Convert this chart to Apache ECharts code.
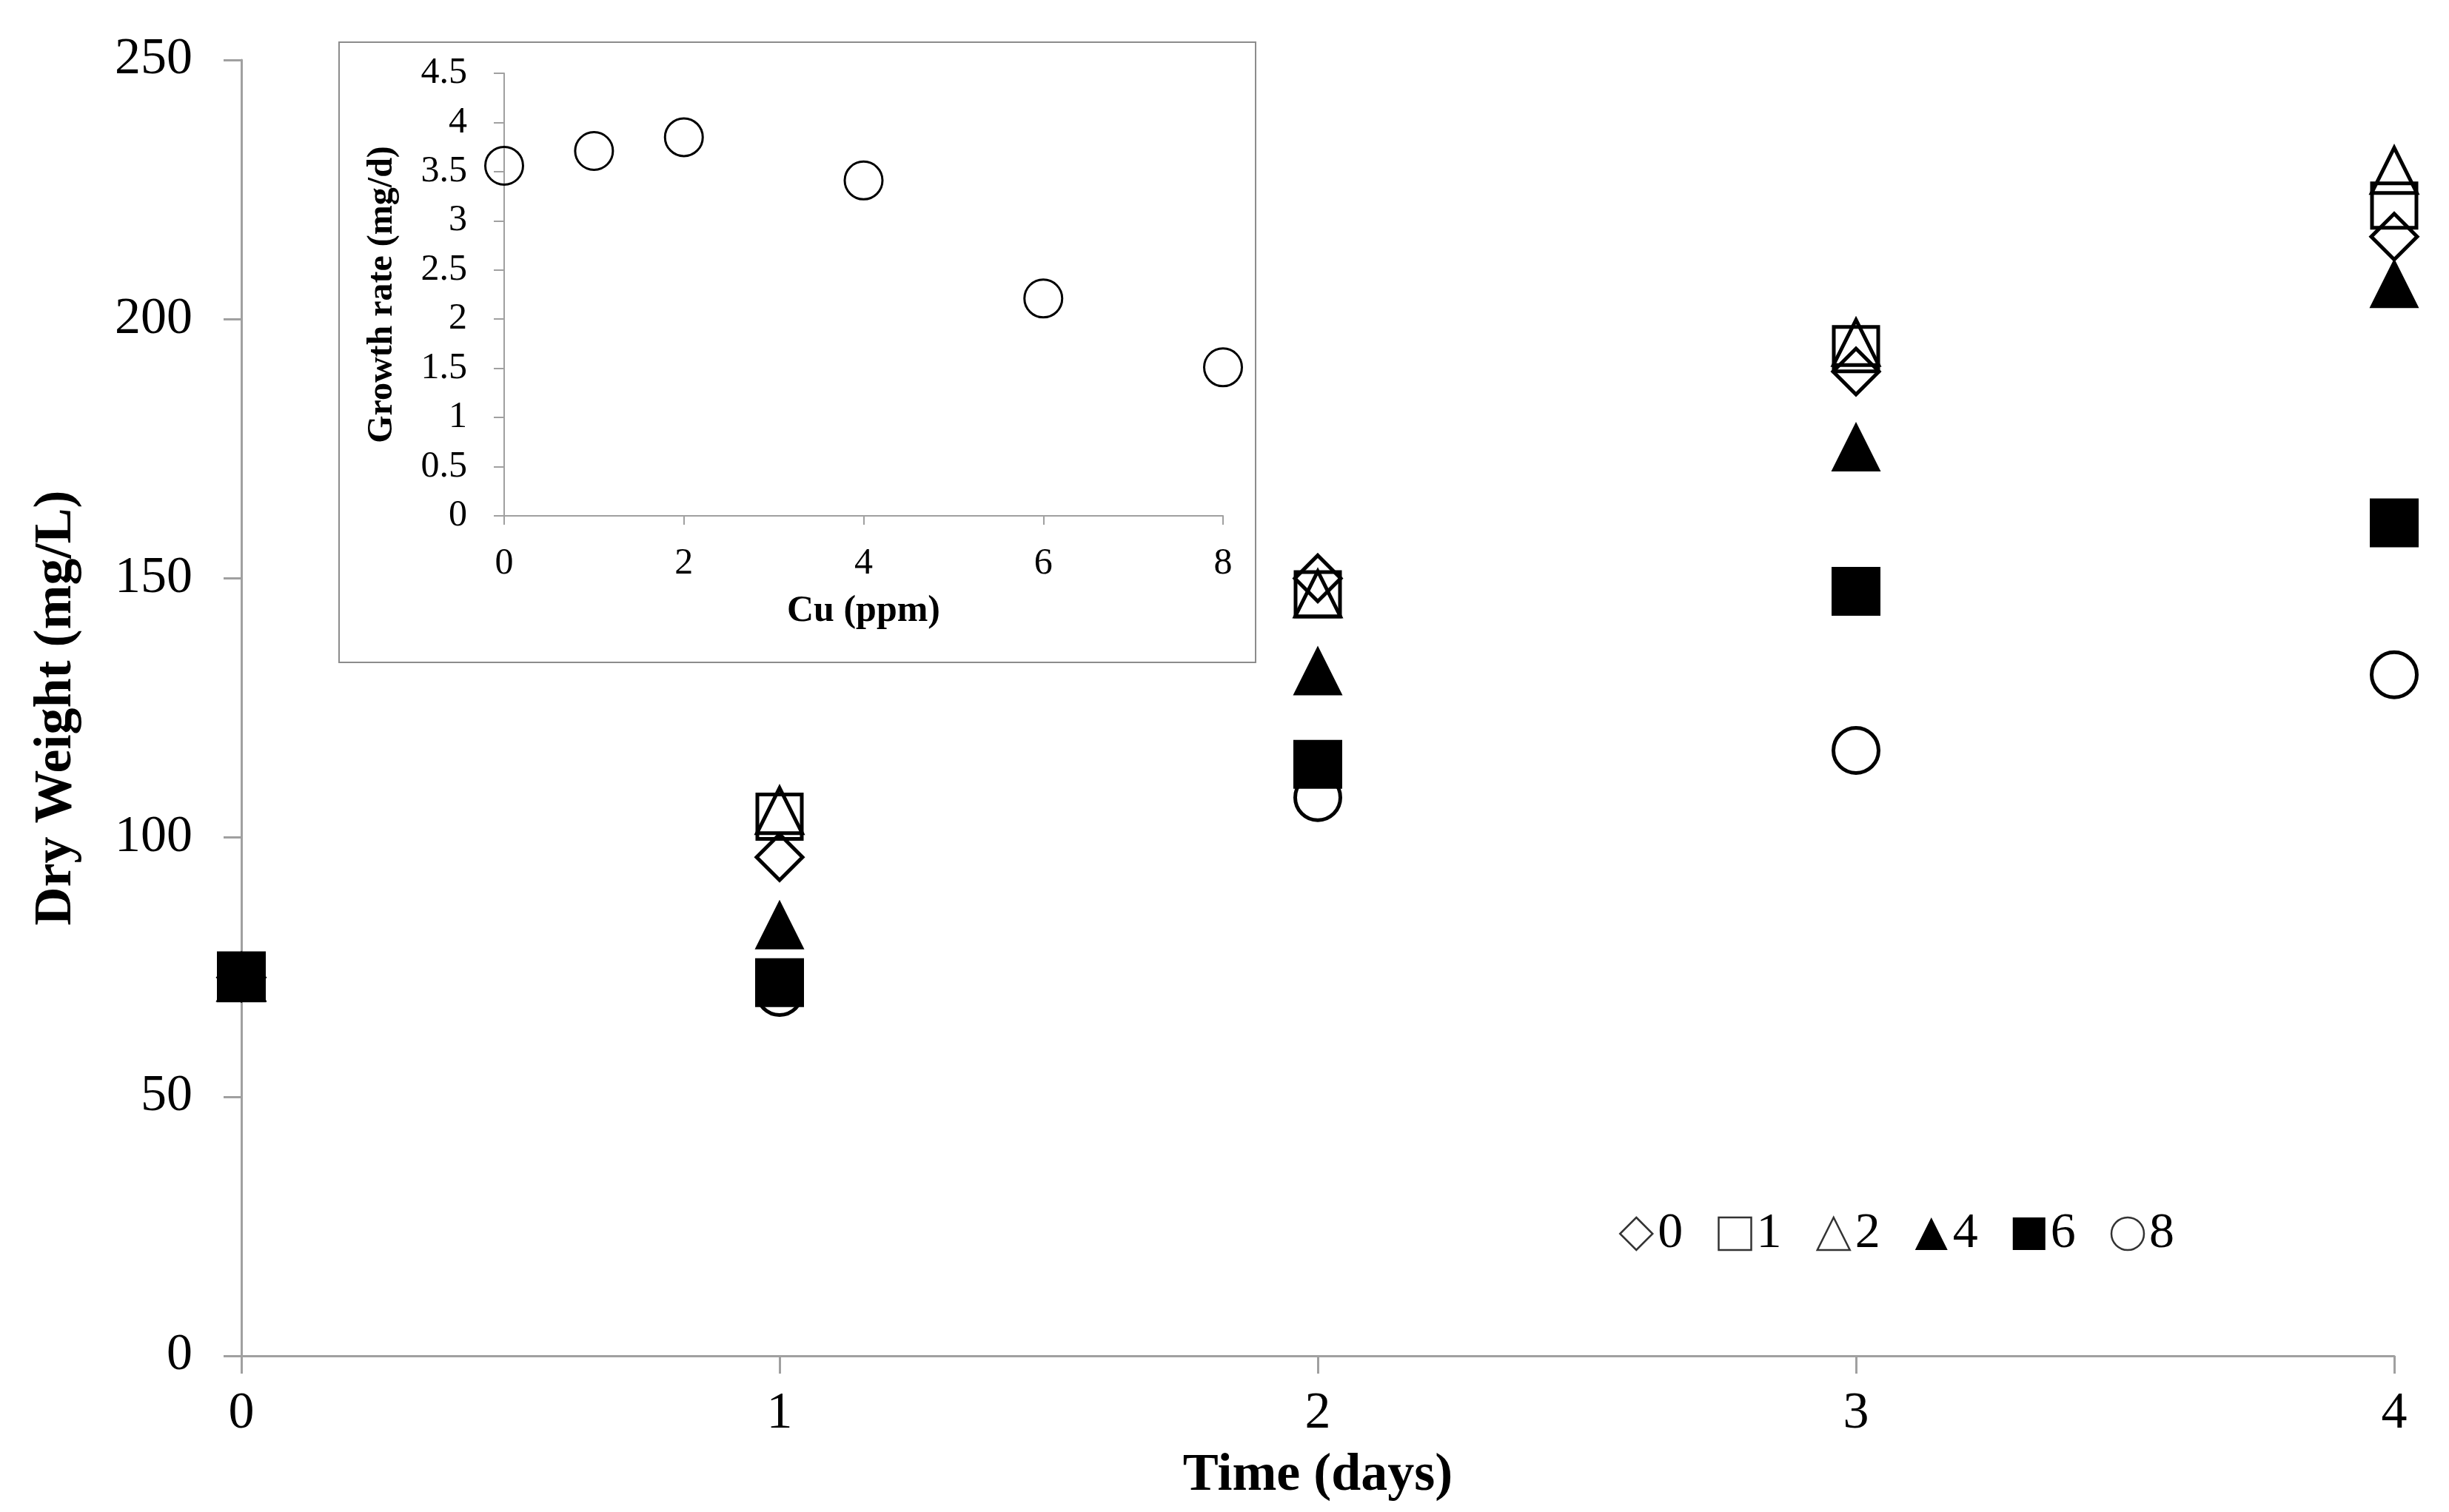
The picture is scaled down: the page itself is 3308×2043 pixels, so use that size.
<!DOCTYPE html>
<html>
<head>
<meta charset="utf-8">
<title>Dry weight vs time</title>
<script src="https://cdn.jsdelivr.net/npm/echarts@6/dist/echarts.min.js"></script>
<style>
  html, body { margin: 0; padding: 0; background: #fff; }
  #chart { width: 3308px; height: 2043px; }
</style>
</head>
<body>
<div id="chart"></div>
<script>
// main chart: dry weight per day, one series per Cu dose (ppm)
var days = [0, 1, 2, 3, 4];
var cu0 = [73, 96.2, 150.0, 189.9, 215.9];
var cu1 = [73, 104.0, 146.9, 194.2, 221.9];
var cu2 = [73, 105.2, 147.0, 195.5, 228.7];
var cu4 = [73, 83.2, 132.2, 175.4, 206.9];
var cu6 = [73.3, 72.0, 114.1, 147.5, 160.7];
var cu8 = [73, 70.1, 107.7, 116.8, 131.4];

// inset: growth rate vs Cu
var cuDose = [0, 1, 2, 4, 6, 8];
var growthRate = [3.56, 3.71, 3.85, 3.41, 2.21, 1.51];

var FONT = '"Liberation Serif", "Times New Roman", serif';
var AXIS_GRAY = '#a0a0a0';

function pairs(xs, ys) {
    return xs.map(function (x, i) { return [x, ys[i]]; });
}

var hollow = { color: 'rgba(0,0,0,0)', borderColor: '#000', borderWidth: 5, opacity: 1 };
var filled = { color: '#000', borderWidth: 0, opacity: 1 };

function mainSeries(name, symbol, size, style, values) {
    return {
        name: name,
        type: 'scatter',
        xAxisIndex: 0,
        yAxisIndex: 0,
        symbol: symbol,
        symbolSize: size,
        itemStyle: style,
        emphasis: { disabled: true },
        data: pairs(days, values),
        z: 3
    };
}

function legendItem(name, icon, fill) {
    return {
        name: name,
        icon: icon,
        itemStyle: fill ? { color: '#000', borderWidth: 0, opacity: 1 }
                        : { color: 'rgba(0,0,0,0)', borderColor: '#333', borderWidth: 2.5, opacity: 1 }
    };
}

var myChart = echarts.init(document.getElementById('chart'), null, { renderer: 'canvas' });

var option = {
    backgroundColor: '#fff',
    animation: false,
    textStyle: { fontFamily: FONT, color: '#000' },
    grid: [
        { left: 326, right: 74, top: 81, bottom: 211 },
        { left: 681, right: 1656, top: 99, bottom: 1346 }
    ],
    graphic: [{
        type: 'rect',
        z: -100,
        shape: { x: 458, y: 57, width: 1238, height: 838 },
        style: { fill: '#fff', stroke: '#8c8c8c', lineWidth: 2 }
    }],
    legend: {
        left: 2182,
        top: 1628,
        itemWidth: 44,
        itemHeight: 44,
        itemGap: 47,
        textStyle: { fontFamily: FONT, fontSize: 68, color: '#000', padding: [0, 0, 0, 2] },
        data: [
            legendItem('0', 'diamond', false),
            legendItem('1', 'rect', false),
            legendItem('2', 'triangle', false),
            legendItem('4', 'triangle', true),
            legendItem('6', 'rect', true),
            legendItem('8', 'circle', false)
        ]
    },
    xAxis: [
        {
            gridIndex: 0,
            type: 'value',
            min: 0, max: 4, interval: 1,
            name: 'Time (days)',
            nameLocation: 'middle',
            nameGap: 126,
            nameTextStyle: { fontFamily: FONT, fontSize: 72, fontWeight: 'bold', color: '#000' },
            axisLine: { lineStyle: { color: AXIS_GRAY, width: 3 } },
            axisTick: { length: 24, lineStyle: { color: AXIS_GRAY, width: 3 } },
            axisLabel: { margin: 44, fontSize: 70, color: '#000', fontFamily: FONT },
            splitLine: { show: false }
        },
        {
            gridIndex: 1,
            type: 'value',
            min: 0, max: 8, interval: 2,
            z: 10,
            name: 'Cu (ppm)',
            nameLocation: 'middle',
            nameGap: 104,
            nameTextStyle: { fontFamily: FONT, fontSize: 50, fontWeight: 'bold', color: '#000' },
            axisLine: { lineStyle: { color: AXIS_GRAY, width: 2 } },
            axisTick: { length: 12, lineStyle: { color: AXIS_GRAY, width: 2 } },
            axisLabel: { margin: 40, fontSize: 50, color: '#000', fontFamily: FONT },
            splitLine: { show: false }
        }
    ],
    yAxis: [
        {
            gridIndex: 0,
            type: 'value',
            min: 0, max: 250, interval: 50,
            name: 'Dry Weight (mg/L)',
            nameLocation: 'middle',
            nameGap: 214,
            nameTextStyle: { fontFamily: FONT, fontSize: 72, fontWeight: 'bold', color: '#000' },
            axisLine: { show: true, lineStyle: { color: AXIS_GRAY, width: 3 } },
            axisTick: { show: true, length: 24, lineStyle: { color: AXIS_GRAY, width: 3 } },
            axisLabel: { margin: 66, fontSize: 70, color: '#000', fontFamily: FONT },
            splitLine: { show: false }
        },
        {
            gridIndex: 1,
            type: 'value',
            min: 0, max: 4.5, interval: 0.5,
            z: 10,
            name: 'Growth rate (mg/d)',
            nameLocation: 'middle',
            nameGap: 140,
            nameTextStyle: { fontFamily: FONT, fontSize: 48, fontWeight: 'bold', color: '#000' },
            axisLine: { show: true, lineStyle: { color: AXIS_GRAY, width: 2 } },
            axisTick: { show: true, length: 14, lineStyle: { color: AXIS_GRAY, width: 2 } },
            axisLabel: { margin: 50, fontSize: 50, color: '#000', fontFamily: FONT },
            splitLine: { show: false }
        }
    ],
    series: [
        mainSeries('0', 'diamond', 62, hollow, cu0),
        mainSeries('1', 'rect', 60, hollow, cu1),
        mainSeries('2', 'triangle', 61, hollow, cu2),
        mainSeries('4', 'triangle', 67, filled, cu4),
        mainSeries('6', 'rect', 66, filled, cu6),
        mainSeries('8', 'circle', 61, hollow, cu8),
        {
            name: 'rate',
            type: 'scatter',
            xAxisIndex: 1,
            yAxisIndex: 1,
            symbol: 'circle',
            symbolSize: 51,
            itemStyle: { color: 'rgba(0,0,0,0)', borderColor: '#000', borderWidth: 3, opacity: 1 },
            emphasis: { disabled: true },
            data: pairs(cuDose, growthRate),
            z: 11
        }
    ]
};

myChart.setOption(option);

window.addEventListener('resize', function () {
    myChart.resize();
});
</script>
</body>
</html>
